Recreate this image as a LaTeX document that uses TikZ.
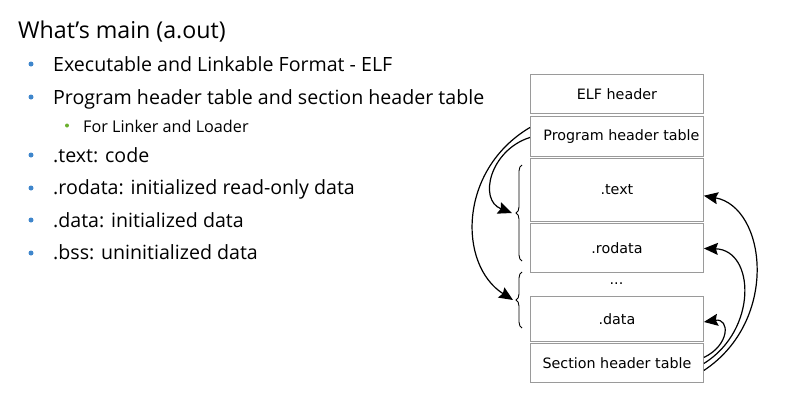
\documentclass[tikz,border=0pt]{standalone}
\usepackage{fontspec}
\setmainfont{DejaVu Sans}
\newfontfamily\slidefont{Open Sans}
\usetikzlibrary{arrows.meta,decorations.pathreplacing}
\definecolor{boxgray}{HTML}{9A9A9A}
\definecolor{bulletblue}{HTML}{3F86CC}
\definecolor{bulletgreen}{HTML}{6BB02E}
\begin{document}
\begin{tikzpicture}[x=1pt,y=-1pt,
  sect/.style={draw=boxgray, line width=0.9pt, minimum width=173pt, inner sep=0pt,
    anchor=north west, font=\fontsize{14.3}{16}\selectfont},
  title/.style={anchor=base west, inner sep=0pt, font=\slidefont\fontsize{23.2}{25}\selectfont},
  item/.style={anchor=base west, inner sep=0pt, font=\slidefont\fontsize{19.6}{22}\selectfont},
  subitem/.style={anchor=base west, inner sep=0pt, font=\slidefont\fontsize{16.2}{18}\selectfont},
  dotb/.style={circle, fill=bulletblue, inner sep=0pt, minimum size=5pt},
  dotg/.style={circle, fill=bulletgreen, inner sep=0pt, minimum size=4pt},
  arr/.style={line width=1.2pt, -{Stealth[length=14pt,width=12pt,inset=2pt]}},
  bracestyle/.style={line width=0.9pt, decorate, decoration={brace, amplitude=6pt}}]
\useasboundingbox (0,0) rectangle (787,405);

% left text
\node[title] (t0) at (18,38) {What’s main (a.out)};
\node[dotb] (d1) at (31,64) {};
\node[item] (t1) at (53,71) {Executable and Linkable Format - ELF};
\node[dotb] (d2) at (31,97) {};
\node[item] (t2) at (53,104) {Program header table and section header table};
\node[dotg] (d2s) at (67,125.5) {};
\node[subitem] (t2s) at (83,132) {For Linker and Loader};
\node[dotb] (d3) at (31,155) {};
\node[item] (t3) at (53,162) {.text: code};
\node[dotb] (d4) at (31,188) {};
\node[item] (t4) at (53,194) {.rodata: initialized read-only data};
\node[dotb] (d5) at (31,220) {};
\node[item] (t5) at (53,227) {.data: initialized data};
\node[dotb] (d6) at (31,253) {};
\node[item] (t6) at (53,259) {.bss: uninitialized data};

% ELF layout
\node[sect, minimum height=39pt] (elf) at (530,74) {ELF header};
\node[sect, minimum height=40pt] (pht) at (530,116) {\hspace{9pt}Program header table};
\node[sect, minimum height=63.5pt] (text) at (530,157.5) {.text};
\node[sect, minimum height=49pt] (rodata) at (530,223) {.rodata};
\node[inner sep=0pt, font=\fontsize{14.3}{16}\selectfont] (dots) at (616.5,284) {...};
\node[sect, minimum height=45pt] (data) at (530,296) {.data};
\node[sect, minimum height=39pt] (sht) at (530,343) {Section header table};

% braces
\draw[bracestyle] (522,261) -- (522,165);
\draw[bracestyle] (522,328) -- (522,272);
\coordinate (b1) at (512,213);
\coordinate (b2) at (513,300);

% program header arrows
\draw[arr] ([yshift=9pt]pht.west) .. controls (458,170) and (458,265) .. (b2);
\draw[arr] ([yshift=-1pt]pht.west) .. controls (490,150) and (478,200) .. (b1);

% section header arrows
\draw[arr] ([yshift=-7.5pt]sht.east) .. controls (780,320) and (766,207) .. ([yshift=-6pt]text.east);
\draw[arr] ([yshift=-0.5pt]sht.east) .. controls (758,330) and (755,250) .. ([yshift=-0.5pt]rodata.east);
\draw[arr] ([yshift=5.5pt]sht.east) .. controls (730,345) and (730,318) .. ([yshift=-3pt]data.east);
\end{tikzpicture}
\end{document}
